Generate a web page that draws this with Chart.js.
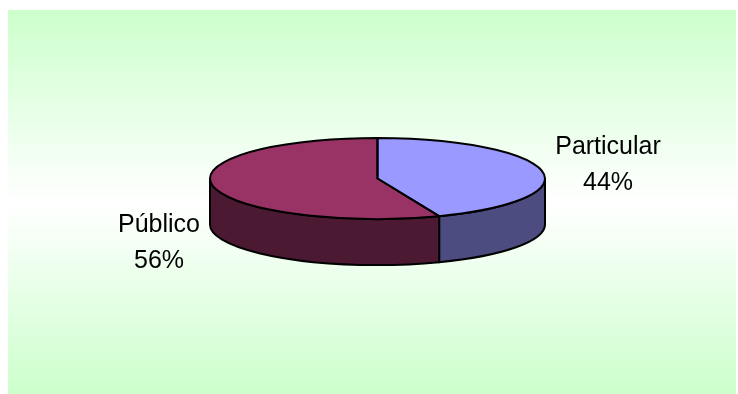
<!DOCTYPE html>
<html>
<head>
  <meta charset="utf-8">
  <title>Público / Particular</title>
  <style>
    body {
      margin: 0;
      background: #ffffff;
      overflow: hidden;
    }
    #wrap {
      width: 738px;
      height: 394px;
    }
  </style>
</head>
<body>
  <div id="wrap"><canvas id="chart" width="738" height="394"></canvas></div>
  <script src="https://cdn.jsdelivr.net/npm/chart.js"></script>
  <script>
    // data
    const labels = ["Particular", "Público"];
    const values = [44, 56];
    const topColors = ["#9999FF", "#993366"];
    const sideColors = ["#4C4C80", "#4C1933"];

    // look of the 3d pie
    const TILT = 0.242;   // vertical squash of the top face
    const DEPTH = 46;     // thickness of the side wall in px

    // where the two labels sit (centre x, baseline of first line)
    const labelPos = [
      { x: 608, y: 154 },
      { x: 159, y: 232 }
    ];

    const pie3d = {
      id: "pie3d",
      beforeDraw(chart) {
        const ctx = chart.ctx;
        ctx.save();
        ctx.fillStyle = "#ffffff";
        ctx.fillRect(0, 0, chart.width, chart.height);
        const g = ctx.createLinearGradient(0, 10, 0, 394);
        g.addColorStop(0, "#CCFFCC");
        g.addColorStop(0.5, "#FFFFFF");
        g.addColorStop(1, "#CCFFCC");
        ctx.fillStyle = g;
        ctx.fillRect(8, 10, 728, 384);
        ctx.restore();
      },
      beforeDatasetsDraw(chart) {
        const ctx = chart.ctx;
        const arcs = chart.getDatasetMeta(0).data;
        const cx = arcs[0].x, cy = arcs[0].y;
        const rx = arcs[0].outerRadius, ry = rx * TILT;

        // side walls (only the front half shows)
        ctx.save();
        ctx.lineWidth = 2;
        ctx.strokeStyle = "#000000";
        ctx.lineJoin = "round";
        arcs.forEach((arc, i) => {
          const s = Math.max(arc.startAngle, 0);
          const e = Math.min(arc.endAngle, Math.PI);
          if (e <= s) return;
          ctx.beginPath();
          ctx.ellipse(cx, cy, rx, ry, 0, s, e);
          ctx.ellipse(cx, cy + DEPTH, rx, ry, 0, e, s, true);
          ctx.closePath();
          ctx.fillStyle = sideColors[i];
          ctx.fill();
          ctx.stroke();
        });
        ctx.restore();

        // top faces, drawn by the arc elements in a squashed space
        ctx.save();
        ctx.translate(cx, cy);
        ctx.scale(1, TILT);
        ctx.translate(-cx, -cy);
        arcs.forEach(arc => arc.draw(ctx));
        ctx.restore();

        // outlines of the top faces
        ctx.save();
        ctx.lineWidth = 2;
        ctx.strokeStyle = "#000000";
        ctx.lineJoin = "round";
        arcs.forEach(arc => {
          ctx.beginPath();
          ctx.moveTo(cx, cy);
          ctx.ellipse(cx, cy, rx, ry, 0, arc.startAngle, arc.endAngle);
          ctx.closePath();
          ctx.stroke();
        });
        ctx.restore();
        return false;
      },
      afterDraw(chart) {
        const ctx = chart.ctx;
        const total = values.reduce((a, b) => a + b, 0);
        ctx.save();
        ctx.fillStyle = "#000000";
        ctx.font = "25px 'Liberation Sans', Arial, sans-serif";
        ctx.textAlign = "center";
        ctx.textBaseline = "alphabetic";
        labels.forEach((name, i) => {
          const p = labelPos[i];
          const pct = Math.round(values[i] / total * 100) + "%";
          ctx.fillText(name, p.x, p.y);
          ctx.fillText(pct, p.x, p.y + 36);
        });
        ctx.restore();
      }
    };

    new Chart(document.getElementById("chart"), {
      type: "pie",
      data: {
        labels: labels,
        datasets: [{
          data: values,
          backgroundColor: topColors,
          borderWidth: 0
        }]
      },
      options: {
        responsive: false,
        devicePixelRatio: 1,
        animation: false,
        layout: {
          padding: { left: 210, right: 193, top: 11, bottom: 48 }
        },
        plugins: {
          legend: { display: false },
          tooltip: { enabled: false }
        }
      },
      plugins: [pie3d]
    });
  </script>
</body>
</html>
